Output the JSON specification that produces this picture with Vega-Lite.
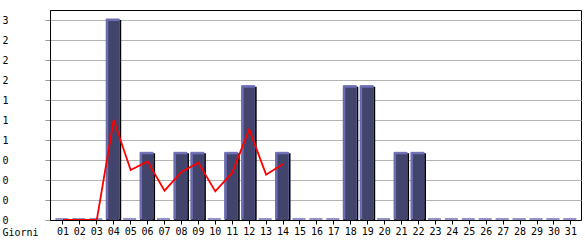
{
  "$schema": "https://vega.github.io/schema/vega-lite/v6.json",
  "autosize": {"type": "none"},
  "padding": {"left": 50, "top": 10, "right": 4, "bottom": 20},
  "width": 531,
  "height": 210,
  "background": "white",
  "config": {
    "view": {"stroke": "black", "strokeWidth": 1},
    "font": "DejaVu Sans Mono",
    "axis": {"labelFont": "DejaVu Sans Mono", "titleFont": "DejaVu Sans Mono", "labelColor": "black", "titleColor": "black"}
  },
  "data": {
    "values": [
      {"day": "01", "hits": 0, "avg": 0},
      {"day": "02", "hits": 0, "avg": 0},
      {"day": "03", "hits": 0, "avg": 0},
      {"day": "04", "hits": 3, "avg": 1.5},
      {"day": "05", "hits": 0, "avg": 0.75},
      {"day": "06", "hits": 1, "avg": 0.88},
      {"day": "07", "hits": 0, "avg": 0.44},
      {"day": "08", "hits": 1, "avg": 0.72},
      {"day": "09", "hits": 1, "avg": 0.86},
      {"day": "10", "hits": 0, "avg": 0.43},
      {"day": "11", "hits": 1, "avg": 0.71},
      {"day": "12", "hits": 2, "avg": 1.36},
      {"day": "13", "hits": 0, "avg": 0.68},
      {"day": "14", "hits": 1, "avg": 0.84},
      {"day": "15", "hits": 0, "avg": null},
      {"day": "16", "hits": 0, "avg": null},
      {"day": "17", "hits": 0, "avg": null},
      {"day": "18", "hits": 2, "avg": null},
      {"day": "19", "hits": 2, "avg": null},
      {"day": "20", "hits": 0, "avg": null},
      {"day": "21", "hits": 1, "avg": null},
      {"day": "22", "hits": 1, "avg": null},
      {"day": "23", "hits": 0, "avg": null},
      {"day": "24", "hits": 0, "avg": null},
      {"day": "25", "hits": 0, "avg": null},
      {"day": "26", "hits": 0, "avg": null},
      {"day": "27", "hits": 0, "avg": null},
      {"day": "28", "hits": 0, "avg": null},
      {"day": "29", "hits": 0, "avg": null},
      {"day": "30", "hits": 0, "avg": null},
      {"day": "31", "hits": 0, "avg": null}
    ]
  },
  "encoding": {
    "x": {
      "field": "day", "type": "ordinal",
      "scale": {"type": "band", "paddingInner": 0, "paddingOuter": 0.18, "align": 0.73},
      "axis": {
        "title": "Giorni", "titleX": -48, "titleY": 12, "titleAlign": "left", "titleBaseline": "middle",
        "titleFontWeight": "normal", "titleFontSize": 10,
        "labelAngle": 0, "labelFontSize": 10, "labelPadding": 2, "tickSize": 4, "tickColor": "black",
        "domainColor": "black", "zindex": 1, "labelBaseline": "top", "labelOverlap": false
      }
    },
    "y": {
      "field": "hits", "type": "quantitative",
      "scale": {"domain": [0, 3.15], "nice": false, "zero": true},
      "axis": {
        "title": null,
        "values": [0, 0.3, 0.6, 0.9, 1.2, 1.5, 1.8, 2.1, 2.4, 2.7, 3],
        "labelExpr": "floor(datum.value + 1e-9)",
        "labelOverlap": false,
        "labelAlign": "left", "labelPadding": 43, "labelFontSize": 10, "labelBaseline": "middle",
        "tickSize": 5, "tickColor": "#999999", "domainColor": "black",
        "grid": true, "gridColor": "#b4b4b4", "gridOpacity": 1
      }
    }
  },
  "layer": [
    {
      "mark": {"type": "bar", "color": "black", "width": 15, "xOffset": 0},
      "encoding": {
        "y2": {"datum": 0}
      }
    },
    {
      "mark": {"type": "bar", "fill": "#6e6eb4", "stroke": "#6e6eb4", "strokeWidth": 1, "width": 13, "xOffset": -1, "yOffset": -1, "y2Offset": -1},
      "encoding": {
        "y2": {"datum": 0}
      }
    },
    {
      "mark": {"type": "bar", "fill": "#42446c", "width": 11, "xOffset": 0, "yOffset": 1, "y2Offset": 0},
      "encoding": {
        "y2": {"datum": 0}
      }
    },
    {
      "mark": {"type": "line", "color": "#ff0000", "strokeWidth": 1.8},
      "encoding": {
        "y": {"field": "avg", "type": "quantitative"}
      }
    }
  ]
}
